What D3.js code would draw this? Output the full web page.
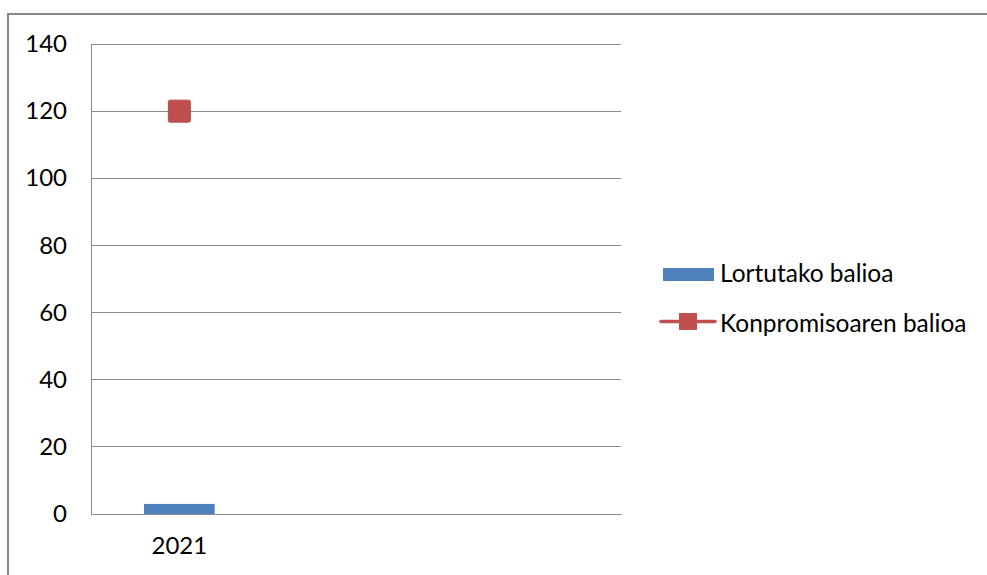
<!DOCTYPE html>
<html><head><meta charset="utf-8">
<script src="https://cdn.jsdelivr.net/npm/d3@7"></script>
<style>body{margin:0;background:#fff}svg{display:block}</style>
</head><body>
<script>
const categories = ["2021", "", ""];
const achieved = [3, null, null];      // Lortutako balioa
const commitment = [120, null, null];  // Konpromisoaren balioa
const yTicks = [0, 20, 40, 60, 80, 100, 120, 140];
const seriesNames = ["Lortutako balioa", "Konpromisoaren balioa"];

const W = 987, H = 575;
const font = "Lato, 'Open Sans', sans-serif";
const svg = d3.select("body").append("svg").attr("width", W).attr("height", H);

// outer frame
svg.append("rect").attr("x", 8).attr("y", 14).attr("width", 990).attr("height", 600)
  .attr("fill", "none").attr("stroke", "#878787").attr("stroke-width", 2);

const plot = {l: 91, r: 621, t: 44, b: 514};
const x = d3.scaleBand().domain(d3.range(categories.length)).range([plot.l, plot.r]).paddingInner(0.6).paddingOuter(0.3);
const xc = d3.scaleBand().domain(d3.range(categories.length)).range([plot.l, plot.r]);
const y = d3.scaleLinear().domain([0, 140]).range([plot.b, plot.t]);

// gridlines
svg.append("g").selectAll("line").data(yTicks.filter(d => d > 0)).join("line")
  .attr("x1", plot.l).attr("x2", plot.r).attr("y1", d => y(d)).attr("y2", d => y(d))
  .attr("stroke", "#8c8c8c").attr("stroke-width", 1).attr("shape-rendering", "crispEdges");

// y axis
const yAxis = svg.append("g").attr("transform", `translate(${plot.l},0)`)
  .call(d3.axisLeft(y).tickValues(yTicks).tickSize(0).tickPadding(24));
yAxis.select(".domain").attr("stroke", "#8c8c8c").attr("shape-rendering", "crispEdges");
yAxis.selectAll("text").attr("font-family", font).attr("font-size", 24).attr("fill", "#000");

// x axis
const xAxis = svg.append("g").attr("transform", `translate(0,${plot.b})`)
  .call(d3.axisBottom(xc).tickFormat(i => categories[i]).tickSize(0).tickPadding(23));
xAxis.select(".domain").attr("stroke", "#8c8c8c").attr("shape-rendering", "crispEdges");
xAxis.selectAll("text").attr("font-family", font).attr("font-size", 24).attr("fill", "#000");

// bars
svg.append("g").selectAll("rect").data(achieved.map((v, i) => ({v, i})).filter(d => d.v != null)).join("rect")
  .attr("x", d => x(d.i)).attr("width", x.bandwidth())
  .attr("y", d => y(d.v)).attr("height", d => y(0) - y(d.v))
  .attr("fill", "#4f81bd");

// commitment markers
const ms = 22;
svg.append("g").selectAll("rect").data(commitment.map((v, i) => ({v, i})).filter(d => d.v != null)).join("rect")
  .attr("x", d => xc(d.i) + xc.bandwidth() / 2 - ms / 2).attr("y", d => y(d.v) - ms / 2)
  .attr("width", ms).attr("height", ms).attr("rx", 1.5)
  .attr("fill", "#c0504d").attr("stroke", "#b84a47").attr("stroke-width", 1);

// legend
const lg = svg.append("g");
lg.append("rect").attr("x", 663).attr("y", 268).attr("width", 51).attr("height", 13).attr("fill", "#4f81bd");
lg.append("text").attr("x", 720).attr("y", 282).text(seriesNames[0])
  .attr("font-family", font).attr("font-size", 24.5).attr("fill", "#000");
lg.append("line").attr("x1", 661).attr("x2", 715).attr("y1", 321.5).attr("y2", 321.5)
  .attr("stroke", "#c0504d").attr("stroke-width", 3.5).attr("stroke-linecap", "round");
lg.append("rect").attr("x", 679).attr("y", 313).attr("width", 18).attr("height", 17).attr("fill", "#c0504d");
lg.append("text").attr("x", 720).attr("y", 332).text(seriesNames[1])
  .attr("font-family", font).attr("font-size", 24.5).attr("fill", "#000");
</script>
</body></html>
